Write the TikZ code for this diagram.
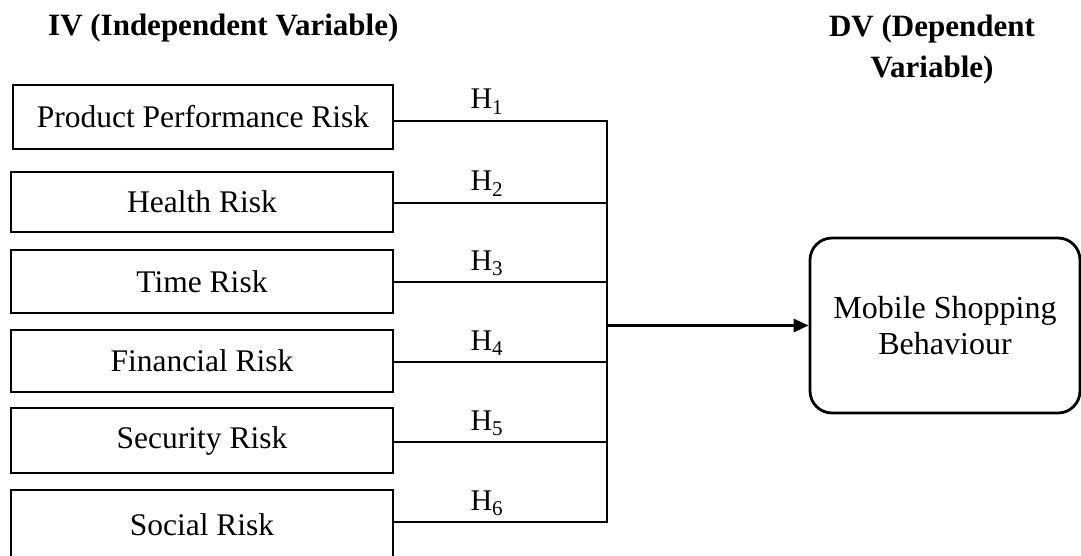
\documentclass[tikz,border=0pt]{standalone}
\usepackage{fontspec}
\setmainfont{Liberation Serif}
\usetikzlibrary{arrows.meta}
\newcommand{\hyp}[1]{H\textsubscript{#1}}
\begin{document}
\begin{tikzpicture}[x=1pt,y=-1pt,
  ivbox/.style={draw, line width=2.8pt, minimum width=382pt, inner sep=0pt,
    font=\fontsize{31.5}{36}\selectfont},
  dvbox/.style={draw, line width=2.8pt, rounded corners=22pt, minimum width=270pt,
    minimum height=175pt, inner sep=0pt, align=center,
    font=\fontsize{32}{36}\selectfont},
  heading/.style={font=\fontsize{31}{41}\selectfont\bfseries, inner sep=0pt, align=center},
  link/.style={line width=2.8pt},
  hlab/.style={font=\fontsize{30}{30}\selectfont, anchor=base, yshift=12pt, inner sep=0pt}
]
\useasboundingbox (0,0) rectangle (1081,556);

% headings
\node[heading, anchor=base west] (ivh) at (48,36) {IV (Independent Variable)};
\node[heading] (dvh) at (932,50) {DV (Dependent\\Variable)};

% independent variables
\node[ivbox, minimum width=380pt, minimum height=64pt] (b1) at (203,117) {Product Performance Risk};
\node[ivbox, minimum height=60pt] (b2) at (202,202) {Health Risk};
\node[ivbox, minimum height=63pt] (b3) at (202,281.5) {Time Risk};
\node[ivbox, minimum height=62pt] (b4) at (202,361) {Financial Risk};
\node[ivbox, minimum height=65pt] (b5) at (202,440.5) {Security Risk};
\node[ivbox, minimum height=70pt] (b6) at (202,525) {Social Risk};

% dependent variable
\node[dvbox] (mob) at (945,325.5) {Mobile Shopping\\Behaviour};

% bus points
\coordinate (c1) at (607,121);
\coordinate (c2) at (607,203);
\coordinate (c3) at (607,282);
\coordinate (c4) at (607,362);
\coordinate (c5) at (607,442);
\coordinate (c6) at (607,522);

% connectors
\draw[link] (b1.east |- c1) -- node[hlab, pos=0.435] {\hyp{1}} (c1) -- (c6)
  -- node[hlab, pos=0.565] {\hyp{6}} (b6.east |- c6);
\draw[link] (b2.east |- c2) -- node[hlab, pos=0.435] {\hyp{2}} (c2);
\draw[link] (b3.east |- c3) -- node[hlab, pos=0.435] {\hyp{3}} (c3);
\draw[link] (b4.east |- c4) -- node[hlab, pos=0.435] {\hyp{4}} (c4);
\draw[link] (b5.east |- c5) -- node[hlab, pos=0.435] {\hyp{5}} (c5);
\draw[link, -{Triangle[length=15pt, width=13pt]}] (c1 |- mob.west) -- (mob.west);
\end{tikzpicture}
\end{document}
